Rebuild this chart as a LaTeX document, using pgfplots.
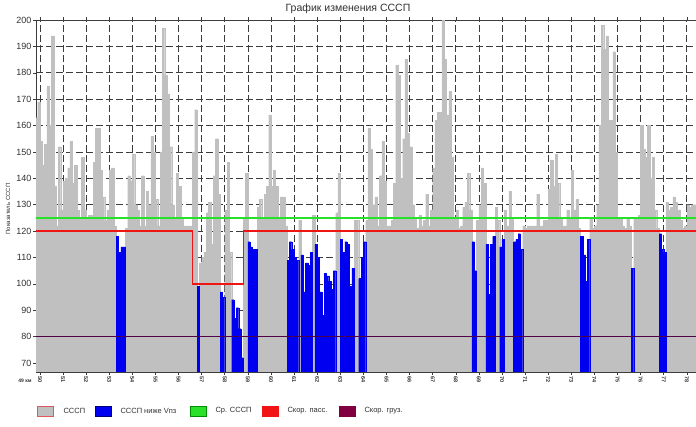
\documentclass[border=0pt]{standalone}
\usepackage{pgfplots}
\pgfplotsset{compat=1.18}
\usepackage{pgfplotstable}
\usepackage{fontspec}
\setmainfont{Liberation Sans}
\definecolor{barGray}{RGB}{192,192,192}
\definecolor{barBlue}{RGB}{0,0,240}
\definecolor{ggreen}{RGB}{40,225,40}
\definecolor{rred}{RGB}{240,20,20}
\definecolor{mmaroon}{RGB}{80,0,70}
\definecolor{legMaroon}{RGB}{128,0,64}
\definecolor{gridGray}{RGB}{60,60,60}
\definecolor{txtGray}{RGB}{50,50,50}

\pgfplotstableread{
x y
49.85 163
49.95 169
50.05 154
50.15 145
50.25 153
50.35 175
50.45 160
50.55 194
50.65 137
50.75 122
50.85 152
50.95 128
51.05 139
51.15 140
51.25 144
51.35 154
51.45 138
51.55 145
51.65 128
51.75 125
51.85 148
51.95 128
52.05 125
52.15 126
52.25 126
52.35 146
52.45 159
52.55 159
52.65 143
52.75 133
52.85 124
52.95 128
53.05 143
53.15 144
53.25 122
53.35 118
53.45 112
53.55 114
53.65 114
53.75 121
53.85 141
53.95 139
54.05 149
54.15 130
54.25 128
54.35 122
54.45 141
54.55 122
54.65 135
54.75 130
54.85 156
54.95 150
55.05 132
55.15 122
55.25 150
55.35 197
55.45 179
55.55 172
55.65 152
55.75 130
55.85 125
55.95 142
56.05 137
56.15 125
56.25 122
56.35 122
56.45 122
56.55 122
56.65 150
56.75 166
56.85 99
56.95 108
57.05 110
57.15 112
57.25 127
57.35 131
57.45 115
57.55 141
57.65 155
57.75 134
57.85 97
57.95 95
58.05 128
58.15 146
58.25 112
58.35 94
58.45 87
58.55 91
58.65 83
58.75 72
58.85 125
58.95 142
59.05 116
59.15 114
59.25 113
59.35 113
59.45 129
59.55 132
59.65 125
59.75 134
59.85 137
59.95 164
60.05 137
60.15 143
60.25 137
60.35 125
60.45 133
60.55 133
60.65 122
60.75 109
60.85 116
60.95 113
61.05 110
61.15 109
61.25 124
61.35 111
61.45 97
61.55 108
61.65 107
61.75 112
61.85 126
61.95 115
62.05 110
62.15 97
62.25 88
62.35 104
62.45 103
62.55 101
62.65 98
62.75 105
62.85 127
62.95 142
63.05 117
63.15 112
63.25 116
63.35 115
63.45 99
63.55 106
63.65 124
63.75 124
63.85 102
63.95 110
64.05 116
64.15 124
64.25 159
64.35 151
64.45 130
64.55 133
64.65 122
64.75 141
64.85 154
64.95 139
65.05 122
65.15 122
65.25 124
65.35 138
65.45 183
65.55 179
65.65 140
65.75 155
65.85 185
65.95 157
66.05 152
66.15 130
66.25 125
66.35 121
66.45 126
66.55 122
66.65 124
66.75 134
66.85 122
66.95 128
67.05 144
67.15 162
67.25 165
67.35 165
67.45 200
67.55 185
67.65 164
67.75 173
67.85 148
67.95 125
68.05 128
68.15 121
68.25 122
68.35 129
68.45 131
68.55 142
68.65 128
68.75 116
68.85 105
68.95 124
69.05 130
69.15 144
69.25 138
69.35 115
69.45 96
69.55 115
69.65 118
69.75 129
69.85 124
69.95 114
70.05 117
70.15 128
70.25 122
70.35 135
70.45 125
70.55 116
70.65 117
70.75 119
70.85 113
70.95 122
71.05 121
71.15 122
71.25 122
71.35 122
71.45 122
71.55 134
71.65 122
71.75 122
71.85 124
71.95 124
72.05 136
72.15 147
72.25 137
72.35 149
72.45 138
72.55 125
72.65 122
72.75 122
72.85 128
72.95 125
73.05 143
73.15 128
73.25 132
73.35 121
73.45 118
73.55 111
73.65 101
73.75 117
73.85 125
73.95 121
74.05 122
74.15 130
74.25 160
74.35 198
74.45 189
74.55 194
74.65 162
74.75 162
74.85 188
74.95 150
75.05 125
75.15 125
75.25 122
75.35 121
75.45 125
75.55 122
75.65 106
75.75 125
75.85 125
75.95 126
76.05 160
76.15 151
76.25 148
76.35 160
76.45 140
76.55 148
76.65 128
76.75 121
76.85 119
76.95 113
77.05 112
77.15 131
77.25 128
77.35 129
77.45 133
77.55 131
77.65 128
77.75 124
77.85 121
77.95 122
78.05 130
78.15 129
78.25 130
78.35 130
}\graydata

\pgfplotstableread{
x y
53.35 118
53.45 112
53.55 114
53.65 114
56.85 99
57.85 97
57.95 95
58.35 94
58.45 87
58.55 91
58.65 83
58.75 72
59.05 116
59.15 114
59.25 113
59.35 113
60.75 109
60.85 116
60.95 113
61.05 110
61.15 109
61.35 111
61.45 97
61.55 108
61.65 107
61.75 112
61.95 115
62.05 110
62.15 97
62.25 88
62.35 104
62.45 103
62.55 101
62.65 98
62.75 105
63.05 117
63.15 112
63.25 116
63.35 115
63.45 99
63.55 106
63.85 102
63.95 110
64.05 116
68.75 116
68.85 105
69.35 115
69.45 96
69.55 115
69.65 118
69.95 114
70.05 117
70.55 116
70.65 117
70.75 119
70.85 113
73.45 118
73.55 111
73.65 101
73.75 117
75.65 106
76.85 119
76.95 113
77.05 112
}\bluedata

\begin{document}
\begin{tikzpicture}[x=1pt,y=1pt]
\useasboundingbox (0,0) rectangle (696,427);
\fill[white] (0,0) rectangle (696,427);
\begin{axis}[
  at={(36pt,55pt)}, anchor=south west,
  scale only axis, width=660pt, height=352pt,
  xmin=49.83, xmax=78.4, ymin=66.6, ymax=200,
  xtick={50,...,78}, ytick={70,80,...,200},
  grid=major,
  major grid style={gridGray, dash pattern=on 7pt off 3pt, line width=0.6pt},
  axis line style={gridGray, line width=0.6pt},
  tick style={gridGray, line width=0.5pt},
  tick align=outside, major tick length=3pt,
  xticklabel style={rotate=-90, anchor=west, inner sep=1.5pt, font=\fontsize{5.5}{5.5}\selectfont\bfseries, text=txtGray},
  yticklabel style={font=\fontsize{9}{9}\selectfont, text=txtGray, inner sep=1.5pt},
  /pgf/number format/assume math mode=true,
]
\addplot[ybar, bar width=0.1, bar shift=0pt, fill=barGray, draw=barGray, line width=0.2pt] table[x=x,y=y]{\graydata};
\addplot[ybar, bar width=0.1, bar shift=0pt, fill=barBlue, draw=barBlue, line width=0.2pt] table[x=x,y=y]{\bluedata};
\addplot[sharp plot, draw=ggreen, line width=1.4pt, mark=none] coordinates {(49.83,125) (78.4,125)};
\addplot[sharp plot, draw=rred, line width=1.3pt, mark=none] coordinates {(49.83,120) (56.59,120) (56.59,100) (58.81,100) (58.81,120) (78.4,120)};
\addplot[sharp plot, draw=mmaroon, line width=1.1pt, mark=none] coordinates {(49.83,80) (78.4,80)};
\end{axis}
\node[font=\fontsize{10.5}{10.5}\selectfont, text=txtGray] at (348,418) {График изменения СССП};
\node[font=\fontsize{6}{6}\selectfont, text=txtGray, rotate=90] at (8,218) {Показатель СССП};
\node[font=\fontsize{5}{5}\selectfont\bfseries, text=txtGray] at (25,46) {49 км};
\begin{scope}[font=\fontsize{7.5}{7.5}\selectfont]
\filldraw[fill=barGray, draw={rgb,255:red,220;green,90;blue,90}, line width=0.7pt] (37,11) rectangle (53,21);
\node[anchor=west, text=txtGray] at (60,16) {СССП};
\filldraw[fill=barBlue, draw={rgb,255:red,0;green,0;blue,120}, line width=0.7pt] (95,11) rectangle (111,21);
\node[anchor=west, text=txtGray] at (117,16) {СССП ниже Vпз};
\filldraw[fill=ggreen, draw={rgb,255:red,0;green,140;blue,0}, line width=0.7pt] (190,11) rectangle (206,21);
\node[anchor=west, text=txtGray] at (212,16) {Ср. СССП};
\filldraw[fill=rred, draw=rred, line width=0.7pt] (262,11) rectangle (278,21);
\node[anchor=west, text=txtGray] at (284,16) {Скор. пасс.};
\filldraw[fill=legMaroon, draw=legMaroon, line width=0.7pt] (339,11) rectangle (355,21);
\node[anchor=west, text=txtGray] at (361,16) {Скор. груз.};
\end{scope}
\end{tikzpicture}
\end{document}
